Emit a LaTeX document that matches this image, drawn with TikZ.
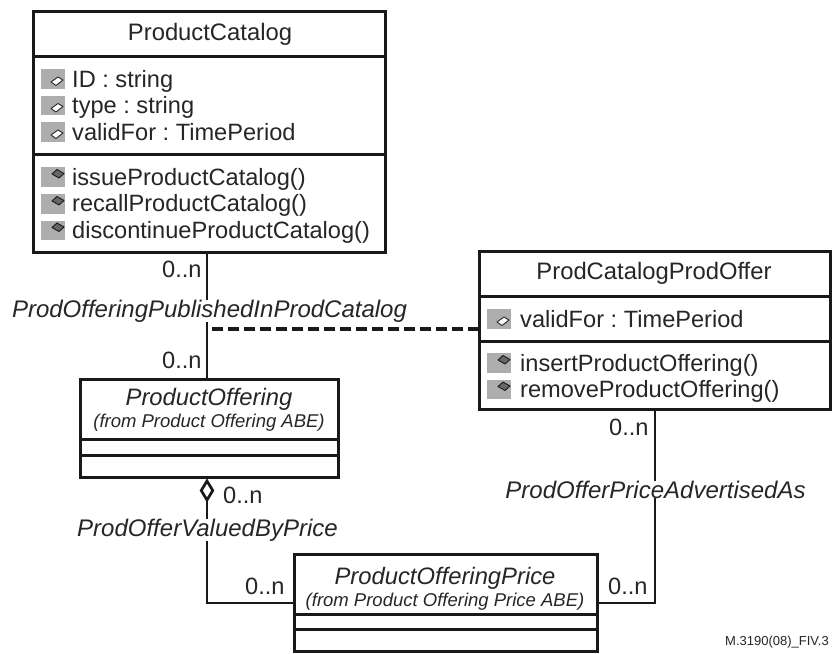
\documentclass[tikz,border=0pt]{standalone}
\usepackage{fontspec}
\setmainfont{Liberation Sans}
\frenchspacing
\usetikzlibrary{shapes.geometric}
\tikzset{
	classbox/.style={draw=black!90, line width=3pt, fill=white, inner sep=0pt, outer sep=0pt},
	classtext/.style={anchor=base, inner sep=0pt, font=\fontsize{23.8}{26}\selectfont, text=black!85},
	classsub/.style={anchor=base, inner sep=0pt, font=\fontsize{18.5}{20}\itshape\selectfont, text=black!85},
	memtext/.style={anchor=base west, inner sep=0pt, font=\fontsize{23.6}{26}\selectfont, text=black!85},
	assoctext/.style={anchor=base, inner sep=0pt, fill=white, font=\fontsize{24}{26}\itshape\selectfont, text=black!85},
	conn/.style={draw=black!90, line width=2.7pt},
}
\newcommand{\attricon}[2]{
	\fill[black!32] (#1,#2) rectangle ++(24,19.5);
	\draw[black!85, line width=.9pt, fill=white, line join=round] (#1+10,#2+13) -- ++(7,-5) -- ++(5,3) -- ++(-7,5.5) -- cycle;
}
\newcommand{\opicon}[2]{
	\fill[black!32] (#1,#2) rectangle ++(24,19.5);
	\draw[black!90, line width=.9pt, fill=black!60, line join=round] (#1+11,#2+7) -- ++(5,-4.5) -- ++(7,4) -- ++(-5,4.5) -- cycle;
}
\begin{document}
\begin{tikzpicture}[x=1pt, y=-1pt, line join=miter]
	\useasboundingbox (0,0) rectangle (832,653);
	\fill[white] (0,0) rectangle (832,653);
	% connection points
	\coordinate (leftline) at (207,329);
	\coordinate (rightline) at (655,603);
	% ProductCatalog
	\node[classbox, minimum width=352pt, minimum height=45pt, anchor=north west] (catalogHead) at (33.5,11) {};
	\node[classbox, minimum width=352pt, minimum height=98pt, anchor=north] (catalogAttr) at (catalogHead.south) {};
	\node[classbox, minimum width=352pt, minimum height=98pt, anchor=north] (catalogOps) at (catalogAttr.south) {};
	% ProdCatalogProdOffer
	\node[classbox, minimum width=351pt, minimum height=45pt, anchor=north west] (assocHead) at (479,251) {};
	\node[classbox, minimum width=351pt, minimum height=45pt, anchor=north] (assocAttr) at (assocHead.south) {};
	\node[classbox, minimum width=351pt, minimum height=68pt, anchor=north] (assocOps) at (assocAttr.south) {};
	% ProductOffering
	\node[classbox, minimum width=258pt, minimum height=60pt, anchor=north west] (offerHead) at (80,379) {};
	\node[classbox, minimum width=258pt, minimum height=16pt, anchor=north] (offerAttr) at (offerHead.south) {};
	\node[classbox, minimum width=258pt, minimum height=22pt, anchor=north] (offerOps) at (offerAttr.south) {};
	% ProductOfferingPrice
	\node[classbox, minimum width=303pt, minimum height=60pt, anchor=north west] (priceHead) at (294,554) {};
	\node[classbox, minimum width=303pt, minimum height=15pt, anchor=north] (priceAttr) at (priceHead.south) {};
	\node[classbox, minimum width=303pt, minimum height=22pt, anchor=north] (priceOps) at (priceAttr.south) {};
	% connectors
	\draw[conn] (catalogOps.south -| leftline) -- (offerHead.north -| leftline);
	\draw[conn, line width=3.2pt, dash pattern=on 10.5pt off 5.5pt] ([xshift=5pt]leftline) -- (assocAttr.west |- leftline);
	\draw[conn] (assocOps.south -| rightline) -- (rightline) -- (priceHead.east |- rightline);
	\node[draw=black!90, line width=2.7pt, fill=white, inner sep=0pt, outer sep=0pt, shape=diamond, minimum width=11.5pt, minimum height=19pt] (aggr) at (207,490.5) {};
	\draw[conn] (aggr.south) -- (aggr.south |- rightline) -- (priceHead.west |- rightline);
	% icons
	\foreach \y in {69,95.5,122} {\attricon{41}{\y}}
	\foreach \y in {167,194,220.5} {\opicon{41}{\y}}
	\attricon{487}{309}
	\foreach \y in {353,379.5} {\opicon{487}{\y}}
	% titles
	\node[classtext] (catalogTitle) at (210,40) {ProductCatalog};
	\node[classtext] (assocTitle) at (654,279) {ProdCatalogProdOffer};
	\node[classtext, font=\fontsize{23.8}{26}\itshape\selectfont] (offerTitle) at (209,405) {ProductOffering};
	\node[classsub] (offerSub) at (209,427) {(from Product Offering ABE)};
	\node[classtext, font=\fontsize{23.8}{26}\itshape\selectfont] (priceTitle) at (445,584) {ProductOfferingPrice};
	\node[classsub] (priceSub) at (445,606) {(from Product Offering Price ABE)};
	% members
	\foreach \y/\t in {87/ID : string,113/type : string,140/validFor : TimePeriod}
		\node[memtext] (catalogAttr\y) at (72,\y) {\t};
	\foreach \y/\t in {185/issueProductCatalog(),211/recallProductCatalog(),238/discontinueProductCatalog()}
		\node[memtext] (catalogOp\y) at (72,\y) {\t};
	\node[memtext] (assocMem) at (520,327) {validFor : TimePeriod};
	\node[memtext] (assocOpa) at (520,371) {insertProductOffering()};
	\node[memtext] (assocOpb) at (520,397) {removeProductOffering()};
	% multiplicities
	\foreach \name/\x/\y in {multA/162/277,multB/162/368,multC/223/503,multD/245/594,multE/609/435,multF/608/594}
		\node[memtext] (\name) at (\x,\y) {0..n};
	% association names
	\node[assoctext] (publishedLabel) at (209.5,317) {ProdOfferingPublishedInProdCatalog};
	\node[assoctext] (valuedLabel) at (207.5,536) {ProdOfferValuedByPrice};
	\node[assoctext] (advertisedLabel) at (655.5,498) {ProdOfferPriceAdvertisedAs};
	\node[anchor=base east, inner sep=0pt, font=\fontsize{13}{15}\selectfont, text=black!85] (figId) at (829,645) {M.3190(08)\_FIV.3};
\end{tikzpicture}
\end{document}
